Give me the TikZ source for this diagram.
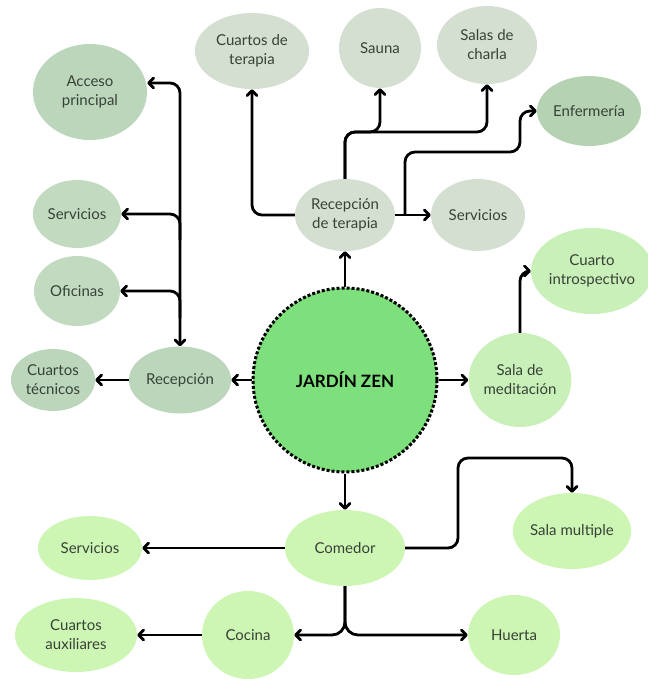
\documentclass[tikz,border=0pt]{standalone}
\usepackage{fontspec}
\setmainfont{Lato}
\usetikzlibrary{shapes.geometric,arrows.meta}
\definecolor{cZen}{HTML}{7EE07C}
\definecolor{cTer}{HTML}{D5DFD1}
\definecolor{cEnf}{HTML}{B5D3B3}
\definecolor{cRec}{HTML}{BCD6BB}
\definecolor{cLeft}{HTML}{C2DBC0}
\definecolor{cBot}{HTML}{CDF6B4}
\definecolor{cMed}{HTML}{C9F0B9}
\definecolor{cTxt}{HTML}{374237}
\tikzset{
  room/.style={ellipse,inner sep=0pt,align=center,text=cTxt,font=\fontsize{15}{19}\selectfont},
  conn/.style={line width=2.8pt,rounded corners=10pt,-{Straight Barb[length=5pt,width=10pt,round]}},
  bus/.style={line width=2.8pt,rounded corners=10pt,{Straight Barb[length=5pt,width=10pt,round]}-{Straight Barb[length=5pt,width=10pt,round]}},
}
\begin{document}
\begin{tikzpicture}[x=1pt,y=-1pt]
\useasboundingbox (0,0) rectangle (647,679);
% center
\node[circle,minimum size=184pt,inner sep=0pt,fill=cZen,draw=black,line width=3pt,dotted,font=\bfseries\fontsize{17}{20}\selectfont] (zen) at (345,380) {JARDÍN ZEN};
% therapy group
\node[room,fill=cTer,minimum width=100pt,minimum height=72pt] (rt) at (345,215) {Recepción\\de terapia};
\node[room,fill=cTer,minimum width=114pt,minimum height=76pt] (ct) at (252,51) {Cuartos de\\terapia};
\node[room,fill=cTer,minimum width=82pt,minimum height=80pt] (sau) at (380,48) {Sauna};
\node[room,fill=cTer,minimum width=100pt,minimum height=78pt] (sc) at (487,45) {Salas de\\charla};
\node[room,fill=cEnf,minimum width=104pt,minimum height=70pt] (enf) at (589,111) {Enfermería};
\node[room,fill=cTer,minimum width=94pt,minimum height=72pt] (srt) at (478,215) {Servicios};
% meditation
\node[room,fill=cMed,minimum width=100pt,minimum height=94pt] (sm) at (520,380) {Sala de\\meditación};
\node[room,fill=cMed,minimum width=112pt,minimum height=86pt] (ci) at (592,271) {Cuarto\\introspectivo};
% bottom group
\node[room,fill=cBot,minimum width=120pt,minimum height=76pt] (com) at (345,548) {Comedor};
\node[room,fill=cBot,minimum width=116pt,minimum height=76pt] (smu) at (572,531) {Sala multiple};
\node[room,fill=cBot,minimum width=92pt,minimum height=80pt] (hue) at (514,635) {Huerta};
\node[room,fill=cBot,minimum width=104pt,minimum height=64pt] (sb) at (90,548) {Servicios};
\node[room,fill=cBot,minimum width=92pt,minimum height=88pt] (coc) at (248,635) {Cocina};
\node[room,fill=cBot,minimum width=122pt,minimum height=74pt] (ca) at (76,635) {Cuartos\\auxiliares};
% left group
\node[room,fill=cRec,minimum width=102pt,minimum height=67pt] (rec) at (180,380) {Recepción};
\node[room,fill=cRec,minimum width=84pt,minimum height=62pt] (ctec) at (53,380) {Cuartos\\técnicos};
\node[room,fill=cRec,minimum width=114pt,minimum height=96pt] (acc) at (90,92) {Acceso\\principal};
\node[room,fill=cLeft,minimum width=88pt,minimum height=68pt] (sl) at (77,214) {Servicios};
\node[room,fill=cLeft,minimum width=86pt,minimum height=70pt] (of) at (77,291) {Oficinas};
% helper coordinates
\coordinate (busTop) at (180,83);
\coordinate (jS) at (180,240);
\coordinate (jO) at (180,318);
\coordinate (tUp) at (345,132);
\coordinate (eA) at (405,215);
\coordinate (eB) at (405,152);
\coordinate (eC) at (520,152);
\coordinate (eD) at (520,111);
\coordinate (mA) at (520,271);
\coordinate (cA) at (458,548);
\coordinate (cB) at (458,458);
\coordinate (cC) at (572,458);
\coordinate (kA) at (345,635);
% connectors from center
\draw[conn] (zen.north) -- (rt.south);
\draw[conn] (zen.west) -- (rec.east);
\draw[conn] (zen.east) -- (sm.west);
\draw[conn] (zen.south) -- (com.north);
% left
\draw[conn] (rec.west) -- (ctec.east);
\draw[bus] (acc.east |- busTop) -- (busTop) -- (rec.north);
\draw[conn] (jS) -- (jS |- sl.east) -- (sl.east);
\draw[conn] (jO) -- (jO |- of.east) -- (of.east);
% therapy
\draw[conn] (rt.west) -| (ct.south);
\draw[conn] (rt.north) -- (tUp) -- (tUp -| sau.south) -- (sau.south);
\draw[conn] (rt.north) -- (tUp) -- (tUp -| sc.south) -- (sc.south);
\draw[conn] (rt.east) -- (srt.west);
\draw[conn] (eA) -- (eB) -- (eC) -- (eD) -- (enf.west);
% meditation
\draw[conn] (sm.north) -- (mA) -- (ci.west);
% bottom
\draw[conn] (com.east) -- (cA) -- (cB) -- (cC) -- (smu.north);
\draw[conn] (com.west) -- (sb.east);
\draw[conn,rounded corners=13pt] (com.south) -- (kA) -- (coc.east);
\draw[conn,rounded corners=13pt] (com.south) -- (kA) -- (hue.west);
\draw[conn] (coc.west) -- (ca.east);
\end{tikzpicture}
\end{document}
